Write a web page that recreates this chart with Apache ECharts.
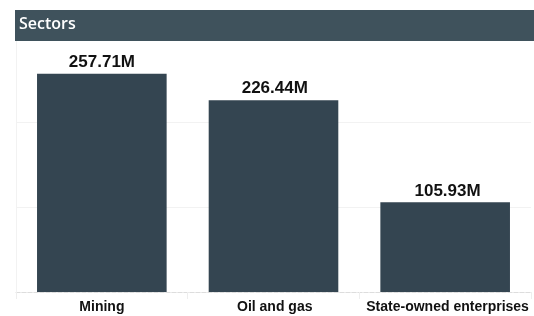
<!DOCTYPE html>
<html>
<head>
<meta charset="utf-8">
<script src="https://cdn.jsdelivr.net/npm/echarts@6/dist/echarts.min.js"></script>
<style>
html,body{margin:0;padding:0;background:#fff;}
#chart{width:534px;height:316px;}
</style>
</head>
<body>
<div id="chart"></div>
<script>
const titleText = "Sectors";
const categories = ["Mining", "Oil and gas", "State-owned enterprises"];
const values = [257.71, 226.44, 105.93];
const valueLabels = ["257.71M", "226.44M", "105.93M"];

const chart = echarts.init(document.getElementById('chart'), null, {renderer: 'canvas'});
const labelFont = {color: '#111111', fontFamily: 'Liberation Sans', fontWeight: 'bold'};
chart.setOption({
  animation: false,
  backgroundColor: '#ffffff',
  title: {
    text: titleText,
    left: 14, top: 11,
    textStyle: {color: '#ffffff', fontFamily: 'Open Sans', fontWeight: 600, fontSize: 16},
    z: 20
  },
  graphic: [{
    type: 'rect', z: 10,
    shape: {x: 15, y: 10, width: 519, height: 31},
    style: {fill: '#3f525c'}
  }],
  grid: [
    {left: 16, right: 3, top: 38, bottom: 24, containLabel: false},
    {left: 15.5, right: -9, top: 38, bottom: 24, containLabel: false}
  ],
  xAxis: [{
    type: 'category', gridIndex: 0,
    data: categories,
    axisLine: {show: true, lineStyle: {color: '#dddddd', type: 'dashed', width: 1}},
    axisTick: {show: true, length: 7, lineStyle: {color: '#eeeeee'}},
    axisLabel: {show: false}
  }, {
    type: 'category', gridIndex: 1,
    data: categories,
    axisLine: {show: false},
    axisTick: {show: false},
    axisLabel: Object.assign({fontSize: 14, margin: 8, interval: 0}, labelFont)
  }],
  yAxis: [{
    type: 'value', gridIndex: 0,
    min: 0, max: 300, interval: 100,
    axisLabel: {show: false},
    axisTick: {show: false},
    axisLine: {show: true, lineStyle: {color: '#f2f2f2'}},
    splitLine: {show: true, lineStyle: {color: '#f2f2f2'}}
  }, {
    type: 'value', gridIndex: 1,
    min: 0, max: 300, interval: 100,
    show: false
  }],
  series: [{
    type: 'bar',
    xAxisIndex: 0, yAxisIndex: 0,
    data: values,
    barWidth: '75.5%',
    itemStyle: {color: '#344551'},
    z: 2
  }, {
    type: 'bar',
    xAxisIndex: 1, yAxisIndex: 1,
    data: values,
    barWidth: '75%',
    itemStyle: {color: 'rgba(0,0,0,0)'},
    silent: true,
    z: 3,
    label: Object.assign({
      show: true, position: 'top', distance: 3, fontSize: 17,
      formatter: p => valueLabels[p.dataIndex]
    }, labelFont)
  }]
});
</script>
</body>
</html>
